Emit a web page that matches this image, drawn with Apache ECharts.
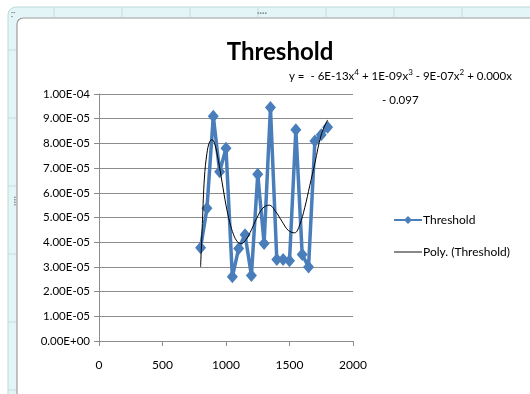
<!DOCTYPE html>
<html>
<head>
<meta charset="utf-8">
<script src="https://cdn.jsdelivr.net/npm/echarts@6/dist/echarts.min.js"></script>
<style>
  html, body { margin: 0; padding: 0; background: #ffffff; }
  #chart { width: 530px; height: 394px; }
</style>
</head>
<body>
<div id="chart"></div>
<script>
// Measured threshold per input level
const levels = [800, 850, 900, 950, 1000, 1050, 1100, 1150, 1200, 1250, 1300,
                1350, 1400, 1450, 1500, 1550, 1600, 1650, 1700, 1750, 1800];
const threshold = [3.78e-5, 5.37e-5, 9.10e-5, 6.85e-5, 7.80e-5, 2.60e-5, 3.75e-5,
                   4.30e-5, 2.65e-5, 6.75e-5, 3.95e-5, 9.45e-5, 3.30e-5, 3.30e-5,
                   3.25e-5, 8.55e-5, 3.50e-5, 3.00e-5, 8.10e-5, 8.35e-5, 8.65e-5];

// Polynomial trend curve (x, y) pairs
const trendX = [800, 815, 830, 850, 870, 890, 910, 940, 970, 1000, 1030, 1060, 1090,
                1120, 1160, 1200, 1240, 1290, 1340, 1390, 1440, 1490, 1540, 1580,
                1620, 1660, 1700, 1750, 1800];
const trendY = [3.00e-5, 4.90e-5, 6.60e-5, 7.60e-5, 8.05e-5, 8.15e-5, 8.00e-5, 7.30e-5,
                6.40e-5, 5.50e-5, 4.80e-5, 4.30e-5, 4.02e-5, 3.95e-5, 4.12e-5, 4.50e-5,
                4.95e-5, 5.38e-5, 5.50e-5, 5.25e-5, 4.85e-5, 4.48e-5, 4.38e-5, 4.70e-5,
                5.40e-5, 6.30e-5, 7.20e-5, 8.35e-5, 8.95e-5];

const xTicks = [0, 500, 1000, 1500, 2000];
const yMax = 1.0e-4;
const yStep = 1.0e-5;

const FONT = 'Lato';

// Spreadsheet-style scientific notation, e.g. 1.00E-04
function sci(v) {
  const s = Number(v).toExponential(2);
  const parts = s.split('e');
  const sign = parts[1][0] === '-' ? '-' : '+';
  let exp = parts[1].replace(/^[+-]/, '');
  if (exp.length < 2) exp = '0' + exp;
  return parts[0] + 'E' + sign + exp;
}

const chart = echarts.init(document.getElementById('chart'), null, { renderer: 'canvas' });

const topTicks = [];
for (let x = 54; x < 530; x += 68) {
  topTicks.push({
    type: 'line', silent: true, z: -9,
    shape: { x1: x, y1: 8, x2: x, y2: 17 },
    style: { stroke: '#c6dde0', lineWidth: 1 }
  });
}
const leftTicks = [];
for (let y = 50; y < 394; y += 68) {
  leftTicks.push({
    type: 'line', silent: true, z: -9,
    shape: { x1: 8, y1: y, x2: 16, y2: y },
    style: { stroke: '#c6dde0', lineWidth: 1 }
  });
}

const option = {
  backgroundColor: '#ffffff',
  animation: false,
  textStyle: { fontFamily: FONT },
  title: {
    text: 'Threshold',
    left: 275, top: 35, textAlign: 'center',
    textStyle: { fontFamily: FONT, fontWeight: 'bold', fontSize: 24, color: '#000000' }
  },
  graphic: [
    { type: 'rect', silent: true, z: -10,
      shape: { x: 8, y: 7, width: 600, height: 500, r: 8 },
      style: { fill: '#e4f5f7', stroke: '#bcd9dd', lineWidth: 1 } },
    ...topTicks,
    ...leftTicks,
    { type: 'rect', silent: true, z: -8,
      shape: { x: 17, y: 18, width: 600, height: 500, r: 6 },
      style: { fill: '#ffffff', stroke: '#9c9c9c', lineWidth: 1.2 } },
    { type: 'text', silent: true, z: -7, left: 257, top: 9,
      style: { text: '····', fill: '#8a8a8a', font: 'bold 9px ' + FONT } },
    { type: 'text', silent: true, z: -7, left: 11, top: 8,
      style: { text: '··\n·', fill: '#8a8a8a', font: 'bold 8px ' + FONT, lineHeight: 4 } },
    { type: 'text', silent: true, z: -7, left: 10, top: 196, rotation: -Math.PI / 2,
      style: { text: '····', fill: '#8a8a8a', font: 'bold 9px ' + FONT } },
    { type: 'text', silent: true, z: 10, left: 289, top: 68,
      style: {
        text: '{n|y =  - 6E-13x}{s|4}{n| + 1E-09x}{s|3}{n| - 9E-07x}{s|2}{n| + 0.000x}',
        rich: {
          n: { fontFamily: FONT, fontSize: 11.5, fill: '#000000', verticalAlign: 'bottom', lineHeight: 14 },
          s: { fontFamily: FONT, fontSize: 8, fill: '#000000', verticalAlign: 'top', lineHeight: 14, padding: [0, 0, 6, 0] }
        }
      } },
    { type: 'text', silent: true, z: 10, left: 382, top: 94,
      style: { text: '- 0.097', fontFamily: FONT, fontSize: 11.5, fill: '#000000' } }
  ],
  legend: {
    orient: 'vertical',
    left: 388, top: 209,
    itemGap: 20,
    itemWidth: 28, itemHeight: 10,
    symbolKeepAspect: true,
    textStyle: { fontFamily: FONT, fontSize: 12, color: '#000000', padding: [0, 0, 0, -4] },
    data: [
      { name: 'Threshold' },
      { name: 'Poly. (Threshold)', icon: 'path://M0,0H30V1H0Z' }
    ]
  },
  grid: { left: 99, top: 94, width: 254, height: 247, containLabel: false },
  xAxis: {
    type: 'value', min: 0, max: 2000, interval: 500,
    axisLine: { show: true, lineStyle: { color: '#8c8c8c', width: 1 } },
    axisTick: { show: true, length: 5, lineStyle: { color: '#8c8c8c' } },
    splitLine: { show: false },
    axisLabel: {
      margin: 18, fontFamily: FONT, fontSize: 12, color: '#000000',
      customValues: xTicks,
      formatter: (v) => String(v)
    }
  },
  yAxis: {
    type: 'value', min: 0, max: yMax, interval: yStep,
    axisLine: { show: true, lineStyle: { color: '#8c8c8c', width: 1 } },
    axisTick: { show: true, length: 5, lineStyle: { color: '#8c8c8c' } },
    splitLine: { show: true, lineStyle: { color: '#8c8c8c', width: 1 } },
    axisLabel: {
      margin: 9, fontFamily: FONT, fontSize: 11.5, color: '#000000',
      formatter: sci
    }
  },
  series: [
    {
      name: 'Threshold',
      type: 'line',
      data: levels.map((x, i) => [x, threshold[i]]),
      symbol: 'diamond',
      symbolSize: [11, 13],
      lineStyle: { color: '#4a7ebb', width: 3.5 },
      itemStyle: { color: '#4a7ebb' },
      z: 3
    },
    {
      name: 'Poly. (Threshold)',
      type: 'line',
      data: trendX.map((x, i) => [x, trendY[i]]),
      symbol: 'none',
      smooth: 0.4,
      lineStyle: { color: '#000000', width: 1 },
      itemStyle: { color: '#000000' },
      z: 4
    }
  ]
};

chart.setOption(option);
</script>
</body>
</html>
